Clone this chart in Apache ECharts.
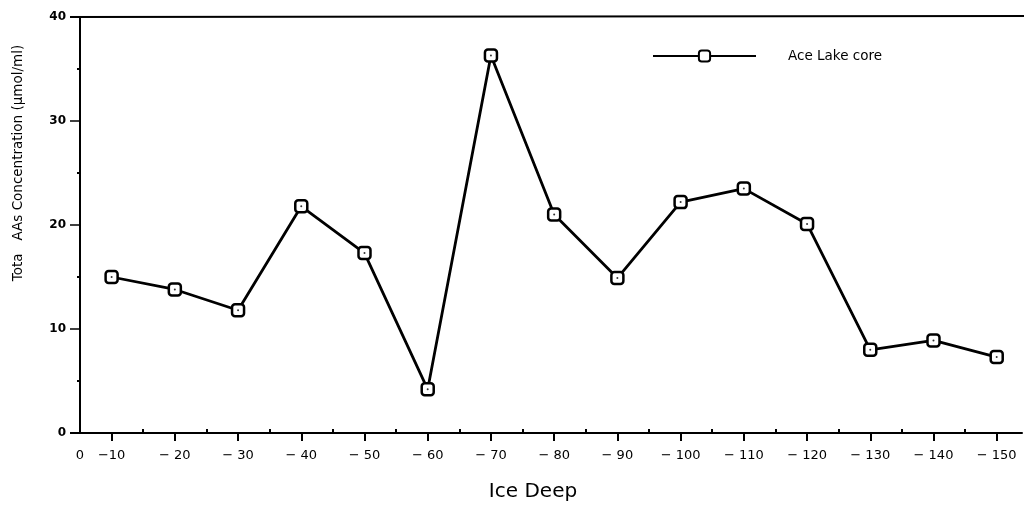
<!DOCTYPE html>
<html><head><meta charset="utf-8">
<script src="https://cdn.jsdelivr.net/npm/echarts@6/dist/echarts.min.js"></script>
<style>html,body{margin:0;padding:0;background:#fff}#c{width:1026px;height:506px}</style>
</head><body><div id="c"></div>
<script>
const depths = [10, 20, 30, 40, 50, 60, 70, 80, 90, 100, 110, 120, 130, 140, 150];
const aceLakeCore = [15.0, 13.8, 11.8, 21.8, 17.3, 4.2, 36.3, 21.0, 14.9, 22.2, 23.5, 20.1, 8.0, 8.9, 7.3];
const majorTicks = [5, 10, 20, 30, 40, 50, 60, 70, 80, 90, 100, 110, 120, 130, 140, 150];
const minorTicks = [15, 25, 35, 45, 55, 65, 75, 85, 95, 105, 115, 125, 135, 145];
const yMinor = [5, 15, 25, 35];
const xTitle = 'Ice Deep';
const yTitle = 'Tota   AAs Concentration (\u00B5mol/ml)';
const seriesName = 'Ace Lake core';

const pts = depths.map((d, i) => [d, aceLakeCore[i]]);
const font = 'DejaVu Sans, Liberation Sans, sans-serif';
const chart = echarts.init(document.getElementById('c'));
const xCommon = {type: 'value', min: 5, max: 154, splitLine: {show: false},
  axisLine: {show: true, lineStyle: {color: '#000', width: 2}}};
chart.setOption({
  animation: false,
  backgroundColor: '#fff',
  grid: {left: 80, right: 4, top: 17, bottom: 73},
  legend: {
    show: true, left: 652, top: 49, padding: 0, itemWidth: 103, itemHeight: 14, itemGap: 32,
    textStyle: {fontFamily: font, fontSize: 13.5, color: '#000', padding: [0, 0, 0, 27]},
    data: [seriesName]
  },
  xAxis: [
    Object.assign({}, xCommon, {
      axisTick: {show: true, length: 8, lineStyle: {color: '#000', width: 2}, customValues: majorTicks.slice(1)},
      axisLabel: {color: '#000', fontFamily: font, fontSize: 13, margin: 16,
        customValues: majorTicks,
        formatter: v => v === 5 ? '0' : (v === 10 ? '\u221210' : '\u2212 ' + v)}
    }),
    Object.assign({}, xCommon, {
      axisLine: {show: false},
      axisTick: {show: true, length: 4, lineStyle: {color: '#000', width: 2}, customValues: minorTicks},
      axisLabel: {show: false}
    })
  ],
  yAxis: [
    {type: 'value', min: 0, max: 40, interval: 10, splitLine: {show: false},
      axisLine: {show: true, lineStyle: {color: '#000', width: 2}},
      axisTick: {show: true, length: 10, lineStyle: {color: '#000', width: 1.5}},
      axisLabel: {color: '#000', fontFamily: font, fontSize: 12, margin: 14, fontWeight: 'bold'}
    },
    {type: 'value', min: 0, max: 40, position: 'left', splitLine: {show: false},
      axisLine: {show: false},
      axisTick: {show: true, length: 3, lineStyle: {color: '#000', width: 2}, customValues: yMinor},
      axisLabel: {show: false}
    }
  ],
  graphic: [
    {type: 'line', shape: {x1: 70, y1: 17, x2: 1024, y2: 16}, style: {stroke: '#000', lineWidth: 2}},
    {type: 'line', shape: {x1: 70, y1: 433, x2: 80, y2: 433}, style: {stroke: '#000', lineWidth: 2}},
    {type: 'text', x: 533, y: 492, style: {text: xTitle, fontFamily: font, fontSize: 20, fill: '#000',
      textAlign: 'center', textVerticalAlign: 'middle'}},
    {type: 'text', x: 18, y: 163, rotation: Math.PI / 2, style: {text: yTitle, fontFamily: font, fontSize: 13.5, fill: '#000',
      textAlign: 'center', textVerticalAlign: 'middle'}}
  ],
  series: [
    {name: seriesName, type: 'line', data: pts, xAxisIndex: 0, yAxisIndex: 0,
      symbol: 'roundRect', symbolSize: 12,
      lineStyle: {color: '#000', width: 2.8},
      itemStyle: {color: '#fff', borderColor: '#000', borderWidth: 2.5},
      z: 3},
    {name: 'dots', type: 'scatter', data: pts, symbol: 'circle', symbolSize: 2,
      itemStyle: {color: '#000'}, z: 4, silent: true}
  ]
});
</script></body></html>
